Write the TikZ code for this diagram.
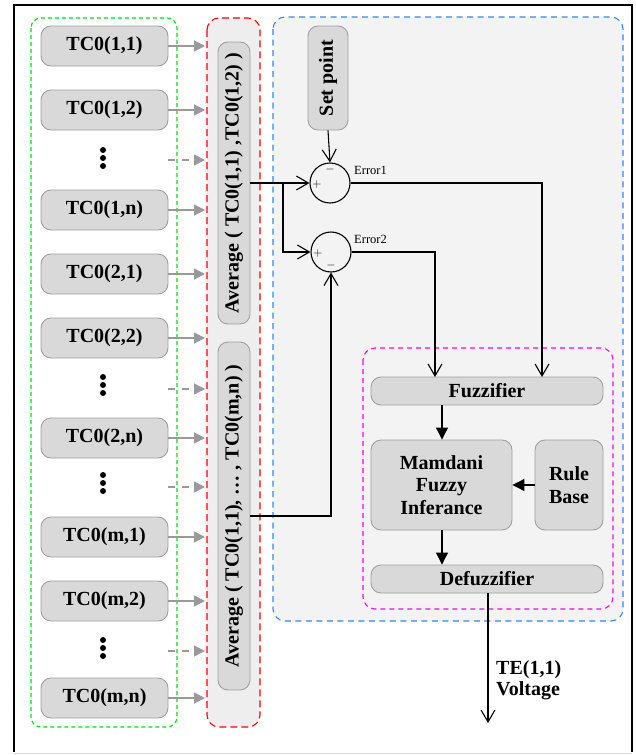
\documentclass[tikz,border=0pt]{standalone}
\usepackage{fontspec}
\setmainfont{Liberation Serif}
\usetikzlibrary{arrows.meta}
\definecolor{boxfill}{HTML}{D9D9D9}
\definecolor{boxborder}{HTML}{A0A0A0}
\definecolor{garrowc}{HTML}{999999}
\definecolor{gbox}{HTML}{00E010}
\definecolor{rbox}{HTML}{FF0000}
\definecolor{bbox}{HTML}{2F88FF}
\definecolor{mbox}{HTML}{FF00FF}
\definecolor{redfill}{HTML}{EEEEEE}
\definecolor{bluefill}{HTML}{F3F3F3}
\tikzset{
  box/.style={draw=boxborder, fill=boxfill, rounded corners=10pt, line width=0.9pt, inner sep=0pt,
    font=\fontsize{20}{22.5}\selectfont\bfseries, align=center},
  garrow/.style={draw=garrowc, line width=1.3pt, -{Triangle[length=11pt,width=11pt]}},
  gdarrow/.style={garrow, dash pattern=on 7pt off 7pt},
  blk/.style={draw=black, line width=1.1pt},
  barb/.style={blk, -{Straight Barb[length=12pt,width=14pt]}},
  fil/.style={blk, -{Triangle[length=12pt,width=12pt]}},
  sumc/.style={circle, draw=black, line width=1.1pt, minimum size=40pt, inner sep=0pt},
  sgn/.style={font=\fontsize{13}{14}\selectfont, inner sep=0pt},
  errl/.style={font=\fontsize{12.5}{14}\selectfont, anchor=west, inner sep=0pt},
  dotc/.style={fill=black},
}
\begin{document}
\begin{tikzpicture}[x=1pt,y=-1pt]
\useasboundingbox (0,0) rectangle (635,755);
% outer frame
\draw[line width=1.8pt] (14,752) -- (14,5) -- (632,5) -- (632,752);
\draw[black!15, line width=1pt] (14,753) -- (632,753);
% group boxes
\draw[bbox, fill=bluefill, line width=1.1pt, dash pattern=on 6pt off 4.5pt, rounded corners=12pt] (273,17) rectangle (623,621);
\draw[rbox, fill=redfill, line width=1.1pt, dash pattern=on 7pt off 4pt, rounded corners=12pt] (207,18) rectangle (260,727);
\draw[gbox, line width=1.1pt, dash pattern=on 4pt off 3pt, rounded corners=10pt] (31,18) rectangle (177,727);
\draw[mbox, line width=1.1pt, dash pattern=on 5pt off 4pt, rounded corners=12pt] (363,348) rectangle (613,609);
% TC boxes
\foreach \nm/\lab/\y in {a11/TC0(1{,}1)/46, a12/TC0(1{,}2)/110, a1n/TC0(1{,}n)/210,
  a21/TC0(2{,}1)/274, a22/TC0(2{,}2)/338, a2n/TC0(2{,}n)/438,
  am1/TC0(m{,}1)/537, am2/TC0(m{,}2)/601, amn/TC0(m{,}n)/698}{
  \node[box, minimum width=127pt, minimum height=40pt] (\nm) at (104.5,\y) {\lab};
  \draw[garrow] (\nm.east) -- (205,\y);
}
% dots rows
\foreach \nm/\y/\ay in {d1/158/160, d2/385/389, d3/483/487, d4/648/651}{
  \fill[dotc] (103,\y-8) circle (3pt) (103,\y) circle (3pt) (103,\y+8) circle (3pt);
  \coordinate (\nm) at (168,\ay);
  \draw[gdarrow] (\nm) -- (205,\ay);
}
% average boxes
\node[box, rotate=90, minimum width=282pt, minimum height=32pt] (avg1) at (234,183) {Average ( TC0(1,1) ,TC0(1,2) )};
\node[box, rotate=90, minimum width=348pt, minimum height=32pt] (avg2) at (234,516) {Average ( TC0(1,1), … , TC0(m,n) )};
% set point
\node[box, rotate=90, minimum width=104pt, minimum height=40pt] (sp) at (328,78) {Set point};
% summing junctions
\node[sumc] (s1) at (330,183) {};
\node[sumc] (s2) at (331,252) {};
\node[sgn] at (317,184) {$+$};
\node[sgn] at (330,169) {$-$};
\node[sgn] at (318,253) {$+$};
\node[sgn] at (331,265) {$-$};
\node[errl] (e1) at (354,170) {Error1};
\node[errl] (e2) at (354,239) {Error2};
% fuzzy blocks
\node[box, minimum width=232pt, minimum height=28pt] (fz) at (487,391) {Fuzzifier};
\node[box, minimum width=141pt, minimum height=90pt] (mam) at (441.5,485) {Mamdani\\Fuzzy\\Inferance};
\node[box, minimum width=68pt, minimum height=90pt] (rb) at (569,485) {Rule\\Base};
\node[box, minimum width=232pt, minimum height=28pt] (dfz) at (487,579) {Defuzzifier};
% connectors
\coordinate (br) at (283,183);
\draw[barb] (avg1.south) -- (s1.west);
\draw[barb] (br) |- (s2.west);
\draw[barb] (sp.west) -- (s1.north);
\draw[barb] (avg2.south) -| (s2.south);
\coordinate (f1) at (542,377);
\coordinate (f2) at (435,377);
\draw[barb] (s1.east) -| (f1);
\draw[barb] (s2.east) -| (f2);
\draw[fil] (fz.south -| 442,0) -- (mam.north -| 442,0);
\draw[fil] (rb.west) -- (mam.east);
\draw[fil] (mam.south -| 442,0) -- (dfz.north -| 442,0);
\coordinate (out) at (488,723);
\draw[barb] (dfz.south -| out) -- (out);
\node[anchor=west, align=left, inner sep=0pt, font=\fontsize{20}{21}\selectfont\bfseries] (te) at (496,680) {TE(1,1)\\Voltage};
\end{tikzpicture}
\end{document}
